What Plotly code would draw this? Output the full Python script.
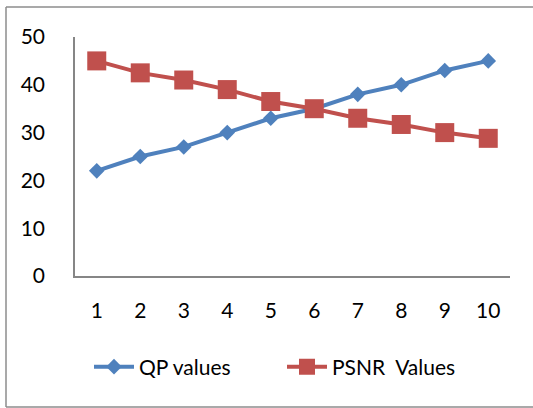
import plotly.graph_objects as go

categories = [1, 2, 3, 4, 5, 6, 7, 8, 9, 10]
qp_values = [22, 25, 27, 30, 33, 35, 38, 40, 43, 45]
psnr_values = [45, 42.5, 41, 39, 36.5, 35, 33, 31.7, 30, 28.8]
y_ticks = [0, 10, 20, 30, 40, 50]

W, H = 533, 408
L, R, T, B = 75, 510, 37, 276

fig = go.Figure()
fig.add_trace(go.Scatter(
    x=categories, y=qp_values, name="QP values", mode="lines+markers",
    line=dict(color="#4F81BD", width=4),
    marker=dict(symbol="diamond", size=12, color="#4F81BD"),
))
fig.add_trace(go.Scatter(
    x=categories, y=psnr_values, name="PSNR  Values", mode="lines+markers",
    line=dict(color="#C0504D", width=4),
    marker=dict(symbol="square", size=19, color="#C0504D"),
))

pw, ph = R - L, B - T
border = dict(color="#8C8C8C", width=1.5)
fx = lambda px: (px - L) / pw
fy = lambda py: (B - py) / ph
fig.add_shape(type="line", xref="paper", yref="paper",
              x0=fx(6), x1=fx(6), y0=fy(407), y1=fy(7), line=border, layer="below")
fig.add_shape(type="line", xref="paper", yref="paper",
              x0=fx(6), x1=fx(533), y0=fy(7), y1=fy(7), line=border, layer="below")
fig.add_shape(type="line", xref="paper", yref="paper",
              x0=fx(6), x1=fx(533), y0=fy(407), y1=fy(407), line=border, layer="below")

fig.update_layout(
    width=W, height=H,
    margin=dict(l=L, r=W - R, t=T, b=H - B, autoexpand=False),
    paper_bgcolor="white", plot_bgcolor="white",
    font=dict(family="Lato, 'Open Sans', sans-serif", size=21, color="black"),
    showlegend=True,
    legend=dict(orientation="h", x=fx(89), xanchor="left",
                y=fy(367), yanchor="middle",
                font=dict(size=21), itemwidth=40, tracegroupgap=0,
                entrywidth=138, entrywidthmode="pixels"),
    xaxis=dict(range=[0.5, 10.5], tickmode="array", tickvals=categories,
               ticktext=[str(c) for c in categories],
               showgrid=False, zeroline=False, showline=True,
               linecolor="#868686", linewidth=1.5, ticks="",
               ticklabelstandoff=15, fixedrange=True),
    yaxis=dict(range=[0, 50], tickmode="array", tickvals=y_ticks,
               showgrid=False, zeroline=False, showline=True,
               linecolor="#868686", linewidth=1.5, ticks="",
               ticklabelstandoff=24, fixedrange=True),
)

fig.write_html("out.html", config={"displayModeBar": False},
               post_script=("document.body.style.margin='0';"
                            "document.body.style.overflow='hidden';"
                            "document.documentElement.style.overflow='hidden';"))
